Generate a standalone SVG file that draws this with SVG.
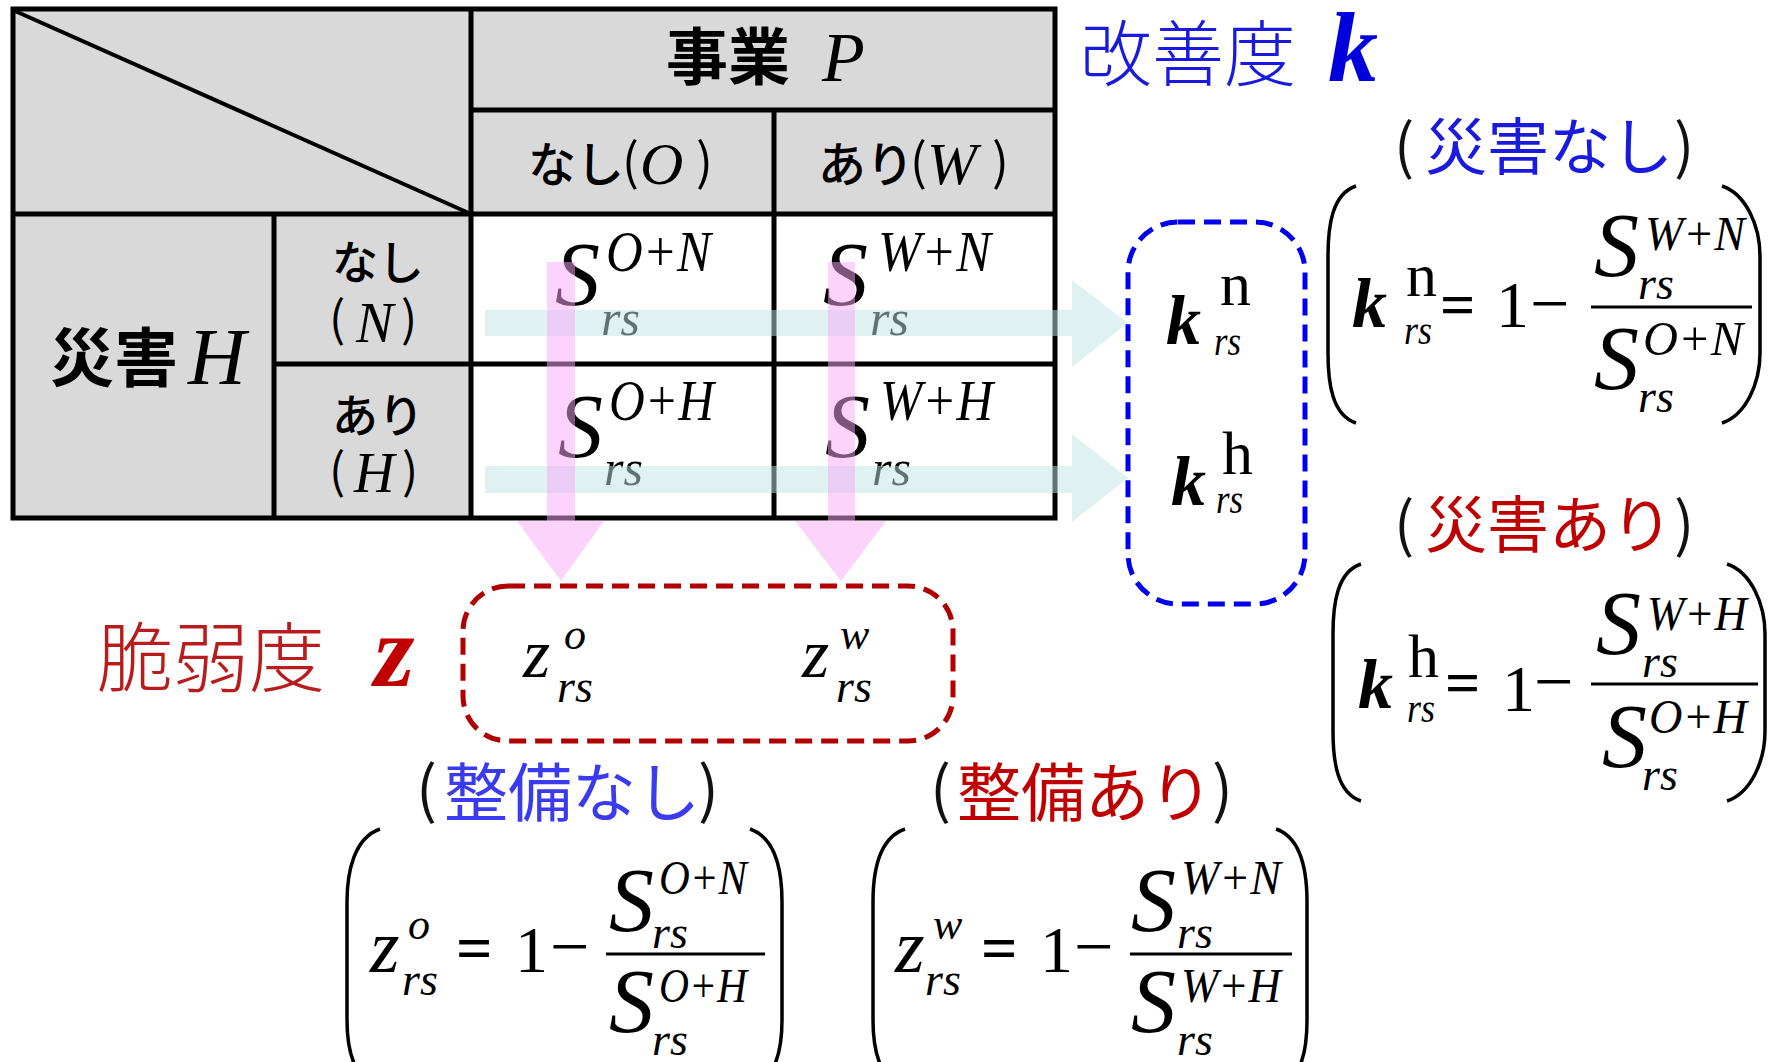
<svg xmlns="http://www.w3.org/2000/svg" width="1769" height="1062" viewBox="0 0 1769 1062">
<style>
.cjk{font-family:"Noto Sans CJK JP","Noto Sans",sans-serif}
.b{font-weight:bold}
.m{font-weight:500}
.it{font-family:"Liberation Serif",serif;font-style:italic}
.bi{font-family:"Liberation Serif",serif;font-style:italic;font-weight:bold}
.rm{font-family:"Liberation Serif",serif}
.ln{stroke:#000;stroke-width:5;fill:none}
.par{stroke:#000;stroke-width:3.5;fill:none}
.teal{fill:#bfe3e3;opacity:0.5}
.pink{fill:#f7a8f7;opacity:0.5}
.blue{fill:#1a1adf}
.red{fill:#c00000}
</style>
<rect width="1769" height="1062" fill="#fff"/>

<g id="table">
  <rect x="13" y="9" width="1042" height="509" fill="#d9d9d9"/>
  <rect x="471" y="214" width="584" height="304" fill="#fff"/>
  <rect x="13" y="9" width="1042" height="509" class="ln"/>
  <line x1="471" y1="9" x2="471" y2="518" class="ln"/>
  <line x1="471" y1="110" x2="1055" y2="110" class="ln"/>
  <line x1="774" y1="110" x2="774" y2="518" class="ln"/>
  <line x1="13" y1="214" x2="1055" y2="214" class="ln"/>
  <line x1="274" y1="214" x2="274" y2="518" class="ln"/>
  <line x1="274" y1="364" x2="1055" y2="364" class="ln"/>
  <line x1="15" y1="11" x2="471" y2="214" stroke="#000" stroke-width="4"/>
</g>

<g id="header-P">
  <text class="cjk b" x="666" y="80" font-size="62">事業</text>
  <text class="it" x="822" y="81" font-size="70">P</text>
</g>
<g id="header-O">
  <text class="cjk m" x="528" y="182" font-size="48">なし</text>
  <text class="cjk" x="622" y="180" font-size="50">(</text>
  <text class="it" x="640" y="184" font-size="60">O</text>
  <text class="cjk" x="696" y="180" font-size="50">)</text>
</g>
<g id="header-W">
  <text class="cjk m" x="818" y="182" font-size="48">あり</text>
  <text class="cjk" x="910" y="180" font-size="50">(</text>
  <text class="it" x="927" y="184" font-size="60">W</text>
  <text class="cjk" x="992" y="180" font-size="50">)</text>
</g>
<g id="header-H">
  <text class="cjk b" x="50" y="381" font-size="64">災害</text>
  <text class="it" x="188" y="384" font-size="80">H</text>
</g>
<g id="row-N">
  <text class="cjk m" x="332" y="279" font-size="46">なし</text>
  <text class="cjk" x="329" y="336" font-size="48">(</text>
  <text class="it" x="356" y="342" font-size="56">N</text>
  <text class="cjk" x="401" y="336" font-size="48">)</text>
</g>
<g id="row-H">
  <text class="cjk m" x="332" y="432" font-size="46">あり</text>
  <text class="cjk" x="329" y="488" font-size="48">(</text>
  <text class="it" x="354" y="492" font-size="56">H</text>
  <text class="cjk" x="402" y="488" font-size="48">)</text>
</g>

<g id="cell-ON">
  <text class="it" x="555" y="305" font-size="90">S</text>
  <text class="it" x="606" y="271" font-size="58" textLength="105" lengthAdjust="spacingAndGlyphs">O+N</text>
  <text class="it" x="601" y="335" font-size="50">rs</text>
</g>
<g id="cell-WN">
  <text class="it" x="823" y="305" font-size="90">S</text>
  <text class="it" x="878" y="271" font-size="58" textLength="113" lengthAdjust="spacingAndGlyphs">W+N</text>
  <text class="it" x="870" y="335" font-size="50">rs</text>
</g>
<g id="cell-OH">
  <text class="it" x="558" y="457" font-size="90">S</text>
  <text class="it" x="609" y="420" font-size="58" textLength="105" lengthAdjust="spacingAndGlyphs">O+H</text>
  <text class="it" x="604" y="485" font-size="50">rs</text>
</g>
<g id="cell-WH">
  <text class="it" x="825" y="457" font-size="90">S</text>
  <text class="it" x="880" y="420" font-size="58" textLength="113" lengthAdjust="spacingAndGlyphs">W+H</text>
  <text class="it" x="872" y="485" font-size="50">rs</text>
</g>

<g id="connectors">
  <path class="teal" d="M485,310 H1072 V280 L1128,323 L1072,367 V336 H485 Z"/>
  <path class="teal" d="M485,466 H1072 V434 L1128,478 L1072,522 V493 H485 Z"/>
  <path class="pink" d="M547,262 H575 V521 H604 L561,581 L517,521 H547 Z"/>
  <path class="pink" d="M828,262 H855 V521 H886 L841,581 L795,521 H828 Z"/>
</g>

<g id="label-k">
  <text class="cjk blue" x="1080" y="80" font-size="72" font-weight="300">改善度</text>
  <text class="bi" x="1328" y="81" font-size="100" fill="#0000dd">k</text>
</g>

<g id="box-k">
  <rect x="1128" y="222" width="177" height="382" rx="50" fill="none" stroke="#0000ee" stroke-width="5" stroke-dasharray="17 9"/>
  <text class="bi" x="1166" y="344" font-size="70">k</text>
  <text class="rm" x="1220" y="305" font-size="62">n</text>
  <text class="it" x="1214" y="355" font-size="40" textLength="27" lengthAdjust="spacingAndGlyphs">rs</text>
  <text class="bi" x="1171" y="505" font-size="70">k</text>
  <text class="rm" x="1222" y="474" font-size="62">h</text>
  <text class="it" x="1216" y="513" font-size="40" textLength="27" lengthAdjust="spacingAndGlyphs">rs</text>
</g>

<g id="formula-kn">
  <text class="cjk" x="1394" y="168" font-size="60" fill="#111">(</text>
  <text class="cjk blue" x="1425" y="170" font-size="62">災害なし</text>
  <text class="cjk" x="1674" y="168" font-size="60" fill="#111">)</text>
  <path class="par" d="M1356,186 C1332,194 1328,226 1328,256 L1328,353 C1328,383 1332,415 1356,423"/>
  <path class="par" d="M1722,186 C1746,194 1760,226 1760,256 L1760,353 C1760,383 1746,415 1722,423"/>
  <text class="bi" x="1352" y="327" font-size="70">k</text>
  <text class="rm" x="1406" y="296" font-size="62">n</text>
  <text class="it" x="1404" y="344" font-size="40" textLength="28" lengthAdjust="spacingAndGlyphs">rs</text>
  <text class="rm b" x="1440" y="325" font-size="62">=</text>
  <text class="rm" x="1496" y="327" font-size="66">1</text>
  <text class="rm" x="1530" y="327" font-size="70">−</text>
  <line x1="1591" y1="307" x2="1752" y2="307" stroke="#000" stroke-width="3"/>
  <text class="it" x="1594" y="276" font-size="90">S</text>
  <text class="it" x="1645" y="250" font-size="48" textLength="100" lengthAdjust="spacingAndGlyphs">W+N</text>
  <text class="it" x="1638" y="299" font-size="46">rs</text>
  <text class="it" x="1594" y="389" font-size="90">S</text>
  <text class="it" x="1643" y="355" font-size="48" textLength="100" lengthAdjust="spacingAndGlyphs">O+N</text>
  <text class="it" x="1638" y="412" font-size="46">rs</text>
</g>

<g id="formula-kh">
  <text class="cjk" x="1394" y="546" font-size="60" fill="#111">(</text>
  <text class="cjk red" x="1425" y="548" font-size="62">災害あり</text>
  <text class="cjk" x="1674" y="546" font-size="60" fill="#111">)</text>
  <path class="par" d="M1361,564 C1337,572 1333,604 1333,634 L1333,731 C1333,761 1337,793 1361,801"/>
  <path class="par" d="M1727,564 C1751,572 1765,604 1765,634 L1765,731 C1765,761 1751,793 1727,801"/>
  <text class="bi" x="1358" y="708" font-size="70">k</text>
  <text class="rm" x="1408" y="677" font-size="62">h</text>
  <text class="it" x="1407" y="722" font-size="40" textLength="28" lengthAdjust="spacingAndGlyphs">rs</text>
  <text class="rm b" x="1445" y="703" font-size="62">=</text>
  <text class="rm" x="1502" y="711" font-size="66">1</text>
  <text class="rm" x="1534" y="705" font-size="70">−</text>
  <line x1="1591" y1="684" x2="1758" y2="684" stroke="#000" stroke-width="3"/>
  <text class="it" x="1596" y="654" font-size="90">S</text>
  <text class="it" x="1647" y="630" font-size="48" textLength="100" lengthAdjust="spacingAndGlyphs">W+H</text>
  <text class="it" x="1642" y="677" font-size="46">rs</text>
  <text class="it" x="1602" y="767" font-size="90">S</text>
  <text class="it" x="1649" y="733" font-size="48" textLength="98" lengthAdjust="spacingAndGlyphs">O+H</text>
  <text class="it" x="1642" y="790" font-size="46">rs</text>
</g>

<g id="label-z">
  <text class="cjk" x="97" y="686" font-size="76" font-weight="300" fill="#b81c1c">脆弱度</text>
  <text class="bi" x="374" y="686" font-size="104" fill="#c00000">z</text>
</g>

<g id="box-z">
  <rect x="463" y="586" width="490" height="155" rx="45" fill="none" stroke="#b00000" stroke-width="5" stroke-dasharray="17 9"/>
  <text class="it" x="523" y="677" font-size="70">z</text>
  <text class="it" x="564" y="649" font-size="44">o</text>
  <text class="it" x="557" y="702" font-size="46">rs</text>
  <text class="it" x="802" y="677" font-size="70">z</text>
  <text class="it" x="840" y="649" font-size="44">w</text>
  <text class="it" x="836" y="702" font-size="46">rs</text>
</g>

<g id="formula-zo">
  <text class="cjk" x="416" y="812" font-size="62" fill="#111">(</text>
  <text class="cjk" x="444" y="816" font-size="64" fill="#3a3af0">整備なし</text>
  <text class="cjk" x="698" y="812" font-size="62" fill="#111">)</text>
  <path class="par" d="M380,829 C354,838 347,872 347,902 L347,1020 C347,1050 354,1080 380,1088"/>
  <path class="par" d="M750,829 C776,838 782,872 782,902 L782,1020 C782,1050 776,1080 750,1088"/>
  <text class="it" x="370" y="972" font-size="76">z</text>
  <text class="it" x="408" y="939" font-size="44">o</text>
  <text class="it" x="402" y="995" font-size="46">rs</text>
  <text class="rm b" x="456" y="970" font-size="64">=</text>
  <text class="rm" x="515" y="972" font-size="66">1</text>
  <text class="rm" x="550" y="970" font-size="70">−</text>
  <line x1="606" y1="954" x2="765" y2="954" stroke="#000" stroke-width="3"/>
  <text class="it" x="609" y="931" font-size="90">S</text>
  <text class="it" x="659" y="894" font-size="48" textLength="88" lengthAdjust="spacingAndGlyphs">O+N</text>
  <text class="it" x="652" y="948" font-size="46">rs</text>
  <text class="it" x="609" y="1032" font-size="90">S</text>
  <text class="it" x="659" y="1002" font-size="48" textLength="88" lengthAdjust="spacingAndGlyphs">O+H</text>
  <text class="it" x="652" y="1055" font-size="46">rs</text>
</g>

<g id="formula-zw">
  <text class="cjk" x="930" y="812" font-size="62" fill="#111">(</text>
  <text class="cjk red" x="957" y="816" font-size="64">整備あり</text>
  <text class="cjk" x="1212" y="812" font-size="62" fill="#111">)</text>
  <path class="par" d="M905,829 C879,838 873,872 873,902 L873,1020 C873,1050 879,1080 905,1088"/>
  <path class="par" d="M1276,829 C1302,838 1307,872 1307,902 L1307,1020 C1307,1050 1302,1080 1276,1088"/>
  <text class="it" x="895" y="972" font-size="76">z</text>
  <text class="it" x="933" y="939" font-size="44">w</text>
  <text class="it" x="925" y="995" font-size="46">rs</text>
  <text class="rm b" x="981" y="970" font-size="64">=</text>
  <text class="rm" x="1040" y="972" font-size="66">1</text>
  <text class="rm" x="1074" y="970" font-size="70">−</text>
  <line x1="1130" y1="954" x2="1292" y2="954" stroke="#000" stroke-width="3"/>
  <text class="it" x="1131" y="931" font-size="90">S</text>
  <text class="it" x="1181" y="894" font-size="48" textLength="100" lengthAdjust="spacingAndGlyphs">W+N</text>
  <text class="it" x="1177" y="948" font-size="46">rs</text>
  <text class="it" x="1131" y="1032" font-size="90">S</text>
  <text class="it" x="1181" y="1002" font-size="48" textLength="100" lengthAdjust="spacingAndGlyphs">W+H</text>
  <text class="it" x="1177" y="1055" font-size="46">rs</text>
</g>
</svg>
